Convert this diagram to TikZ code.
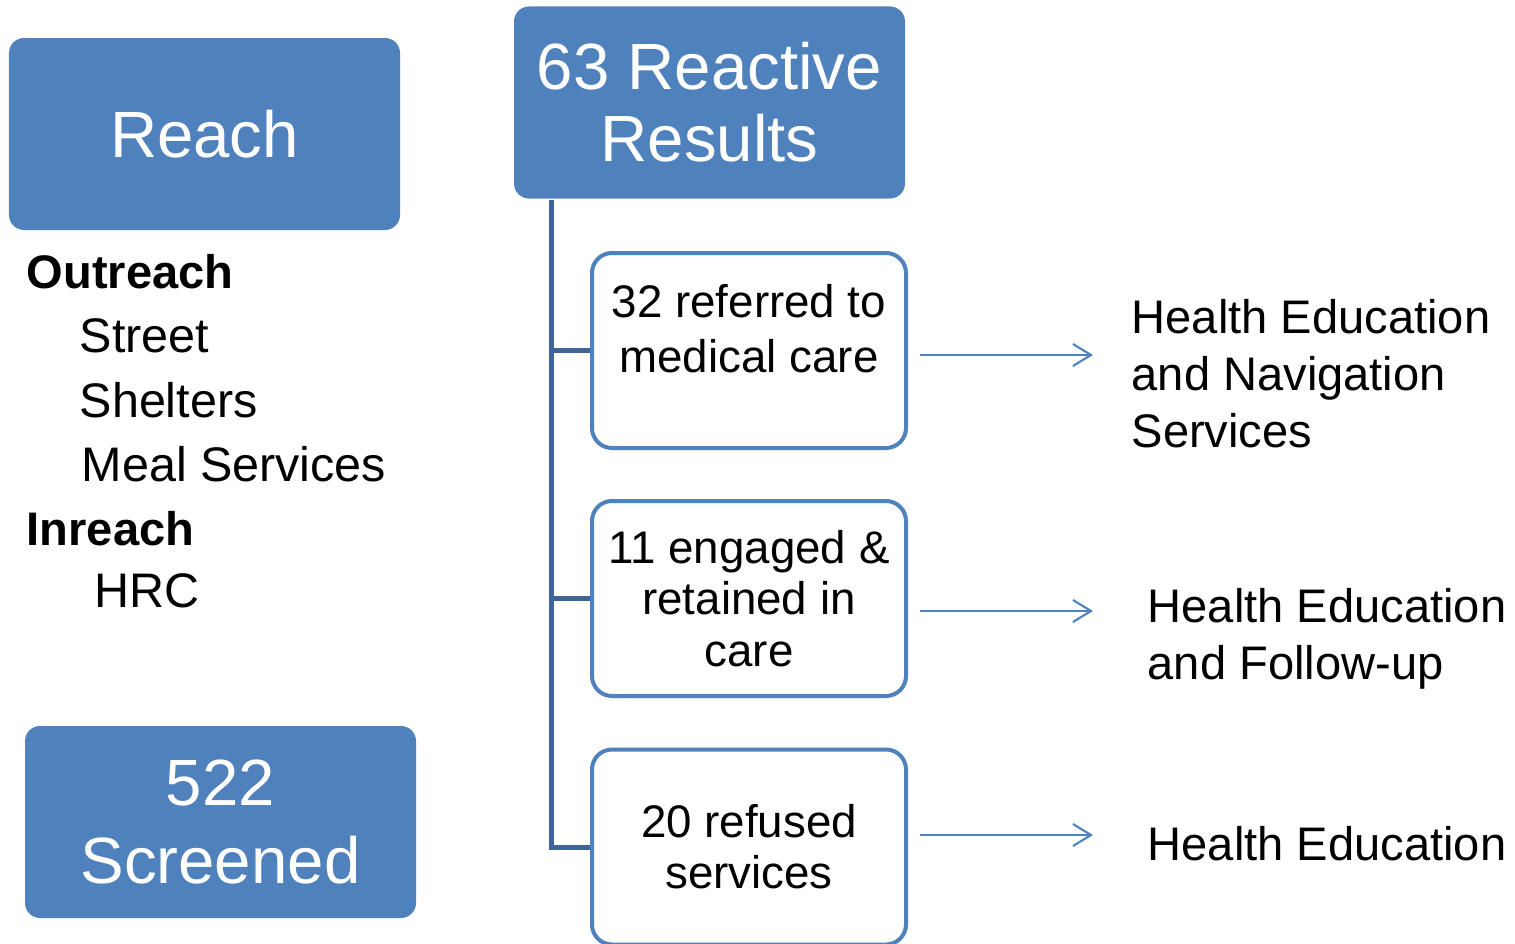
\documentclass[tikz,border=0pt]{standalone}
\usepackage{fontspec}
\setmainfont{Liberation Sans}
\usetikzlibrary{arrows.meta}
\definecolor{boxblue}{HTML}{4F81BD}
\definecolor{treeblue}{HTML}{3F6597}
\tikzstyle{header}=[fill=boxblue,text=white,rounded corners=0.15cm,minimum width=3.91cm,minimum height=1.92cm,align=center,inner sep=0pt,font=\fontsize{18.6}{20.5}\selectfont]
\tikzstyle{result}=[draw=boxblue,line width=0.04cm,rounded corners=0.2cm,minimum width=3.14cm,minimum height=1.95cm,align=center,inner sep=0pt,font=\fontsize{13}{14.6}\selectfont]
\tikzstyle{listitem}=[anchor=base west,inner sep=0pt,font=\fontsize{13.8}{15}\selectfont]
\tikzstyle{listhead}=[listitem,font=\bfseries\fontsize{13.4}{15}\selectfont]
\tikzstyle{service}=[anchor=north west,align=left,inner sep=0pt,font=\fontsize{13.4}{16.2}\selectfont]
\tikzstyle{trunk}=[treeblue,line width=0.05cm]
\tikzstyle{arr}=[boxblue,line width=0.6pt,shorten <=0.12cm,-{Straight Barb[length=1.8mm,width=2.2mm]}]

\begin{document}
\begin{tikzpicture}
\useasboundingbox (0,0) rectangle (15.15,-9.44);

\node[header] (reach) at (2.045,-1.34) {Reach};
\node[header] (reactive) at (7.095,-1.025) {63 Reactive\\Results};
\node[header,font=\fontsize{18.6}{22}\selectfont] (screened) at (2.205,-8.22) {522\\Screened};

\node[listhead] (outreach) at (0.26,-2.88) {Outreach};
\node[listitem] (street) at (0.79,-3.52) {Street};
\node[listitem] (shelters) at (0.79,-4.17) {Shelters};
\node[listitem] (meals) at (0.81,-4.81) {Meal Services};
\node[listhead] (inreach) at (0.26,-5.45) {Inreach};
\node[listitem] (hrc) at (0.94,-6.07) {HRC};

\node[result,font=\fontsize{13}{15.6}\selectfont] (referred) at (7.49,-3.505) {32 referred to\\medical care\\[-3pt]\mbox{}};
\node[result] (engaged) at (7.49,-5.985) {11 engaged \&\\retained in\\care};
\node[result] (refused) at (7.49,-8.47) {20 refused\\services};

\node[service] (navigation) at (11.31,-2.99) {Health Education\\and Navigation\\Services};
\node[service] (followup) at (11.47,-5.88) {Health Education\\and Follow-up};
\node[service] (education) at (11.47,-8.26) {Health Education};

\coordinate (top) at (5.51,-2.0);
\draw[trunk] (top) |- (refused.west);
\draw[trunk] (top |- referred.west) -- (referred.west);
\draw[trunk] (top |- engaged.west) -- (engaged.west);

\coordinate (navtip) at (10.93,-3.55);
\coordinate (followtip) at (10.93,-6.11);
\coordinate (edutip) at (10.93,-8.35);
\draw[arr] (referred.east |- navtip) -- (navtip);
\draw[arr] (engaged.east |- followtip) -- (followtip);
\draw[arr] (refused.east |- edutip) -- (edutip);
\end{tikzpicture}
\end{document}
